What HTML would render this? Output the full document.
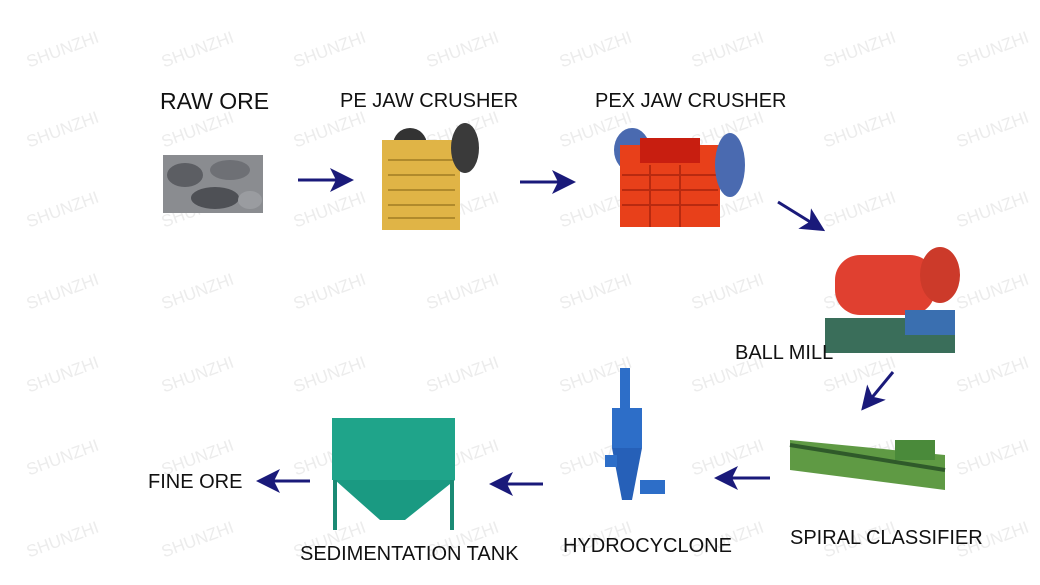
<!DOCTYPE html>
<html><head><meta charset="utf-8"><style>
body{margin:0;width:1040px;height:585px;background:#fff;position:relative;overflow:hidden;font-family:"Liberation Sans",sans-serif}
.wm{position:absolute;color:#ececec;font-size:17px;transform:rotate(-20deg);white-space:nowrap}
.lb{position:absolute;color:#111;font-size:20px;white-space:nowrap}
svg{position:absolute;left:0;top:0}
</style></head><body>
<div id="w"></div>
<script>
var s='';var xs=[25,160,292,425,558,690,822,955],ys=[40,120,200,282,365,448,530];
ys.forEach(function(y){xs.forEach(function(x){s+='<div class="wm" style="left:'+x+'px;top:'+y+'px">SHUNZHI</div>'})});
document.getElementById('w').innerHTML=s;
</script>
<svg width="1040" height="585">
<defs><marker id="a" markerWidth="8" markerHeight="8" refX="6" refY="4" orient="auto"><path d="M0,0 L8,4 L0,8 L2,4z" fill="#1a1a7a"/></marker></defs>
<g stroke="#1a1a7a" stroke-width="3" marker-end="url(#a)">
<line x1="298" y1="180" x2="348" y2="180"/>
<line x1="520" y1="182" x2="570" y2="182"/>
<line x1="778" y1="202" x2="820" y2="228"/>
<line x1="893" y1="372" x2="865" y2="406"/>
<line x1="770" y1="478" x2="720" y2="478"/>
<line x1="543" y1="484" x2="495" y2="484"/>
<line x1="310" y1="481" x2="262" y2="481"/>
</g>
<rect x="163" y="155" width="100" height="58" fill="#8a8c90"/>
<ellipse cx="185" cy="175" rx="18" ry="12" fill="#5c5e63"/><ellipse cx="230" cy="170" rx="20" ry="10" fill="#6e7075"/><ellipse cx="215" cy="198" rx="24" ry="11" fill="#4e5055"/><ellipse cx="250" cy="200" rx="12" ry="9" fill="#9a9ca0"/>
<circle cx="410" cy="145" r="17" fill="#333"/>
<rect x="382" y="140" width="78" height="90" fill="#e0b446"/>
<g stroke="#b08a2c" stroke-width="2"><line x1="388" y1="160" x2="455" y2="160"/><line x1="388" y1="175" x2="455" y2="175"/><line x1="388" y1="190" x2="455" y2="190"/><line x1="388" y1="205" x2="455" y2="205"/><line x1="388" y1="218" x2="455" y2="218"/></g>
<ellipse cx="465" cy="148" rx="14" ry="25" fill="#3a3a3a"/>
<ellipse cx="632" cy="150" rx="18" ry="22" fill="#4a6ab0"/>
<rect x="620" y="145" width="100" height="82" fill="#e8401a"/>
<rect x="640" y="138" width="60" height="25" fill="#c81e10"/>
<g stroke="#b82a10" stroke-width="2"><line x1="622" y1="175" x2="718" y2="175"/><line x1="622" y1="190" x2="718" y2="190"/><line x1="622" y1="205" x2="718" y2="205"/><line x1="650" y1="165" x2="650" y2="227"/><line x1="680" y1="165" x2="680" y2="227"/></g>
<ellipse cx="730" cy="165" rx="15" ry="32" fill="#4a6ab0"/>
<rect x="825" y="318" width="130" height="35" fill="#3a6e5a"/>
<rect x="835" y="255" width="100" height="60" rx="25" fill="#e04030"/>
<ellipse cx="940" cy="275" rx="20" ry="28" fill="#cc3a2a"/>
<rect x="905" y="310" width="50" height="25" fill="#3a6fb0"/>
<polygon points="790,440 945,455 945,490 790,470" fill="#5f9a44"/>
<line x1="790" y1="445" x2="945" y2="470" stroke="#2f5a2a" stroke-width="4"/>
<rect x="895" y="440" width="40" height="20" fill="#4a8a3a"/>
<rect x="620" y="368" width="10" height="40" fill="#2d6ec8"/>
<rect x="612" y="408" width="30" height="40" fill="#2d6ec8"/>
<polygon points="612,448 642,448 632,500 622,500" fill="#2660b8"/>
<rect x="640" y="480" width="25" height="14" fill="#2d6ec8"/>
<rect x="605" y="455" width="12" height="12" fill="#2d6ec8"/>
<rect x="332" y="418" width="123" height="62" fill="#1fa48a"/>
<polygon points="335,480 455,480 405,520 380,520" fill="#1a9a82"/>
<line x1="335" y1="480" x2="335" y2="530" stroke="#1a8a74" stroke-width="4"/>
<line x1="452" y1="480" x2="452" y2="530" stroke="#1a8a74" stroke-width="4"/>
</svg>
<div class="lb" style="left:160px;top:88px;font-size:23px">RAW ORE</div>
<div class="lb" style="left:340px;top:90px">PE JAW CRUSHER</div>
<div class="lb" style="left:595px;top:90px">PEX JAW CRUSHER</div>
<div class="lb" style="left:735px;top:342px">BALL MILL</div>
<div class="lb" style="left:790px;top:527px">SPIRAL CLASSIFIER</div>
<div class="lb" style="left:563px;top:535px">HYDROCYCLONE</div>
<div class="lb" style="left:300px;top:543px">SEDIMENTATION TANK</div>
<div class="lb" style="left:148px;top:471px">FINE ORE</div>
</body></html>
